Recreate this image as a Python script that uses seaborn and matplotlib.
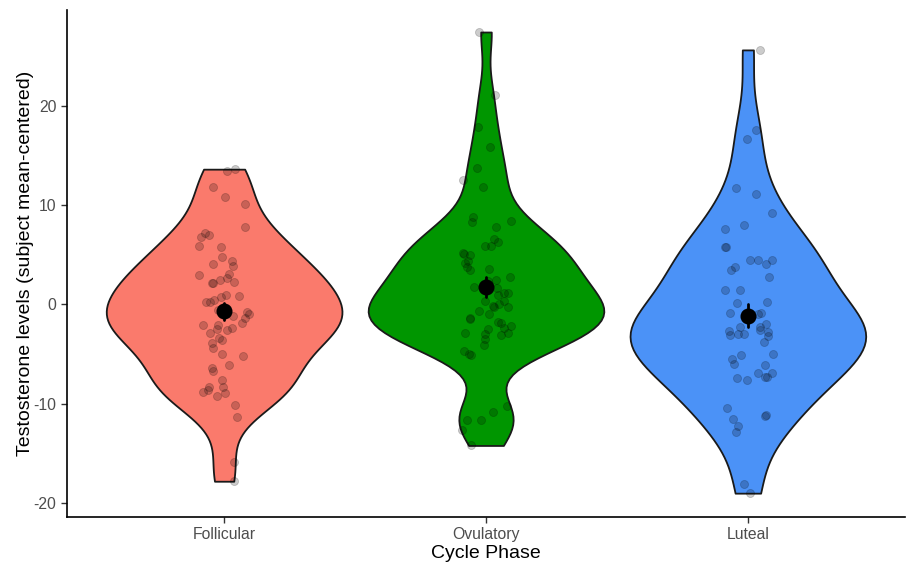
import numpy as np
import pandas as pd
import matplotlib
matplotlib.use("Agg")
import matplotlib.pyplot as plt
import seaborn as sns

# values
phases = ["Follicular", "Ovulatory", "Luteal"]
phase_colors = ["#FA7A6C", "#009600", "#4B92F7"]

follicular = [13.4, 13.6, 11.8, 10.8, 10.1, 7.8, 7.2, 7.0, 6.8, 5.8, 5.9, 4.8, 4.4, 4.1,
              3.9, 3.1, 3.0, 2.6, 2.1, 2.4, 2.1, 2.2, 0.7, 0.2, 0.9, 0.8, 0.4, 0.2, -0.6,
              -0.8, -1.0, -1.2, -1.4, -1.9, -2.1, -2.1, -2.4, -2.6, -2.5, -2.9, -3.4, -3.6,
              -3.9, -4.4, -5.0, -5.2, -6.1, -6.7, -6.4, -7.6, -8.3, -8.6, -8.9, -8.8, -8.3,
              -9.2, -10.1, -11.3, -15.9, -17.8]
ovulatory = [27.4, 21.1, 17.8, 15.8, 13.7, 11.8, 12.5, 8.8, 8.4, 8.3, 7.8, 6.6, 6.3, 5.9,
             5.9, 5.2, 5.1, 5.0, 4.4, 4.2, 3.8, 3.6, 3.5, 2.8, 2.4, 2.3, 1.6, 1.7, 1.1, 1.1,
             0.9, 0.3, 0.3, 0.0, -0.3, -0.3, -0.2, -0.7, -1.0, -1.5, -1.4, -1.8, -1.9, -2.2,
             -2.4, -2.5, -2.9, -3.0, -2.9, -3.1, -3.5, -4.1, -5.1, -5.0, -4.7, -10.2, -10.8,
             -11.6, -11.6, -12.6, -14.2]
luteal = [25.6, 17.5, 16.6, 11.7, 11.1, 9.2, 8.0, 7.6, 5.8, 5.8, 4.5, 4.5, 4.1, 3.5, 3.8,
          4.5, 2.8, 1.4, 1.4, 0.2, 0.1, -0.9, -0.9, -1.0, -2.0, -2.3, -2.3, -2.6, -2.7,
          -3.0, -3.0, -2.8, -3.1, -3.2, -3.8, -5.0, -5.1, -5.5, -6.0, -6.1, -6.9, -6.9,
          -7.6, -7.4, -7.3, -7.3, -10.4, -11.5, -11.2, -11.1, -12.2, -12.8, -18.1, -19.0]

df = pd.DataFrame({
    "phase": ["Follicular"] * len(follicular) + ["Ovulatory"] * len(ovulatory) + ["Luteal"] * len(luteal),
    "value": follicular + ovulatory + luteal,
})


# bandwidth rule like R's bw.nrd0, expressed as a factor of the sample sd
def nrd0_factor(kde):
    x = np.asarray(kde.dataset).ravel()
    sd = np.std(x, ddof=1)
    iqr = np.subtract(*np.percentile(x, [75, 25]))
    lo = min(sd, iqr / 1.34)
    return 0.9 * lo * len(x) ** -0.2 / sd


sns.set_theme(style="ticks")
plt.rcParams["font.family"] = ["Liberation Sans", "DejaVu Sans"]
plt.rcParams["axes.unicode_minus"] = False

fig, ax = plt.subplots(figsize=(9.09, 5.64), dpi=100)
fig.subplots_adjust(left=0.0737, right=0.9956, top=0.982, bottom=0.0833)

sns.violinplot(data=df, x="phase", y="value", hue="phase", order=phases, hue_order=phases,
               palette=phase_colors, cut=0, density_norm="area", width=0.9, bw_method=nrd0_factor,
               inner=None, linewidth=1.3, linecolor="#1a1a1a", saturation=1, legend=False, ax=ax)

np.random.seed(3)
sns.stripplot(data=df, x="phase", y="value", order=phases, color="black", alpha=0.2,
              jitter=0.1, size=5.8, linewidth=0.6, edgecolor="black", ax=ax)

sns.pointplot(data=df, x="phase", y="value", order=phases, color="black", errorbar="se",
              linestyle="none", markers="o", markersize=9.5, err_kws={"linewidth": 2}, ax=ax)

ax.set_ylim(-21.4, 29.6)
ax.set_xlim(-0.6, 2.6)
ax.set_yticks([-20, -10, 0, 10, 20])
ax.set_xlabel("Cycle Phase", fontsize=14, color="black", labelpad=2)
ax.set_ylabel("Testosterone levels (subject mean-centered)", fontsize=14, color="black", labelpad=0)
ax.tick_params(axis="both", labelsize=11.3, labelcolor="#4D4D4D", color="#333333", length=4, width=1)
for side in ["top", "right"]:
    ax.spines[side].set_visible(False)
for side in ["left", "bottom"]:
    ax.spines[side].set_color("black")
    ax.spines[side].set_linewidth(1.2)

fig.savefig("out.png", dpi=100)
